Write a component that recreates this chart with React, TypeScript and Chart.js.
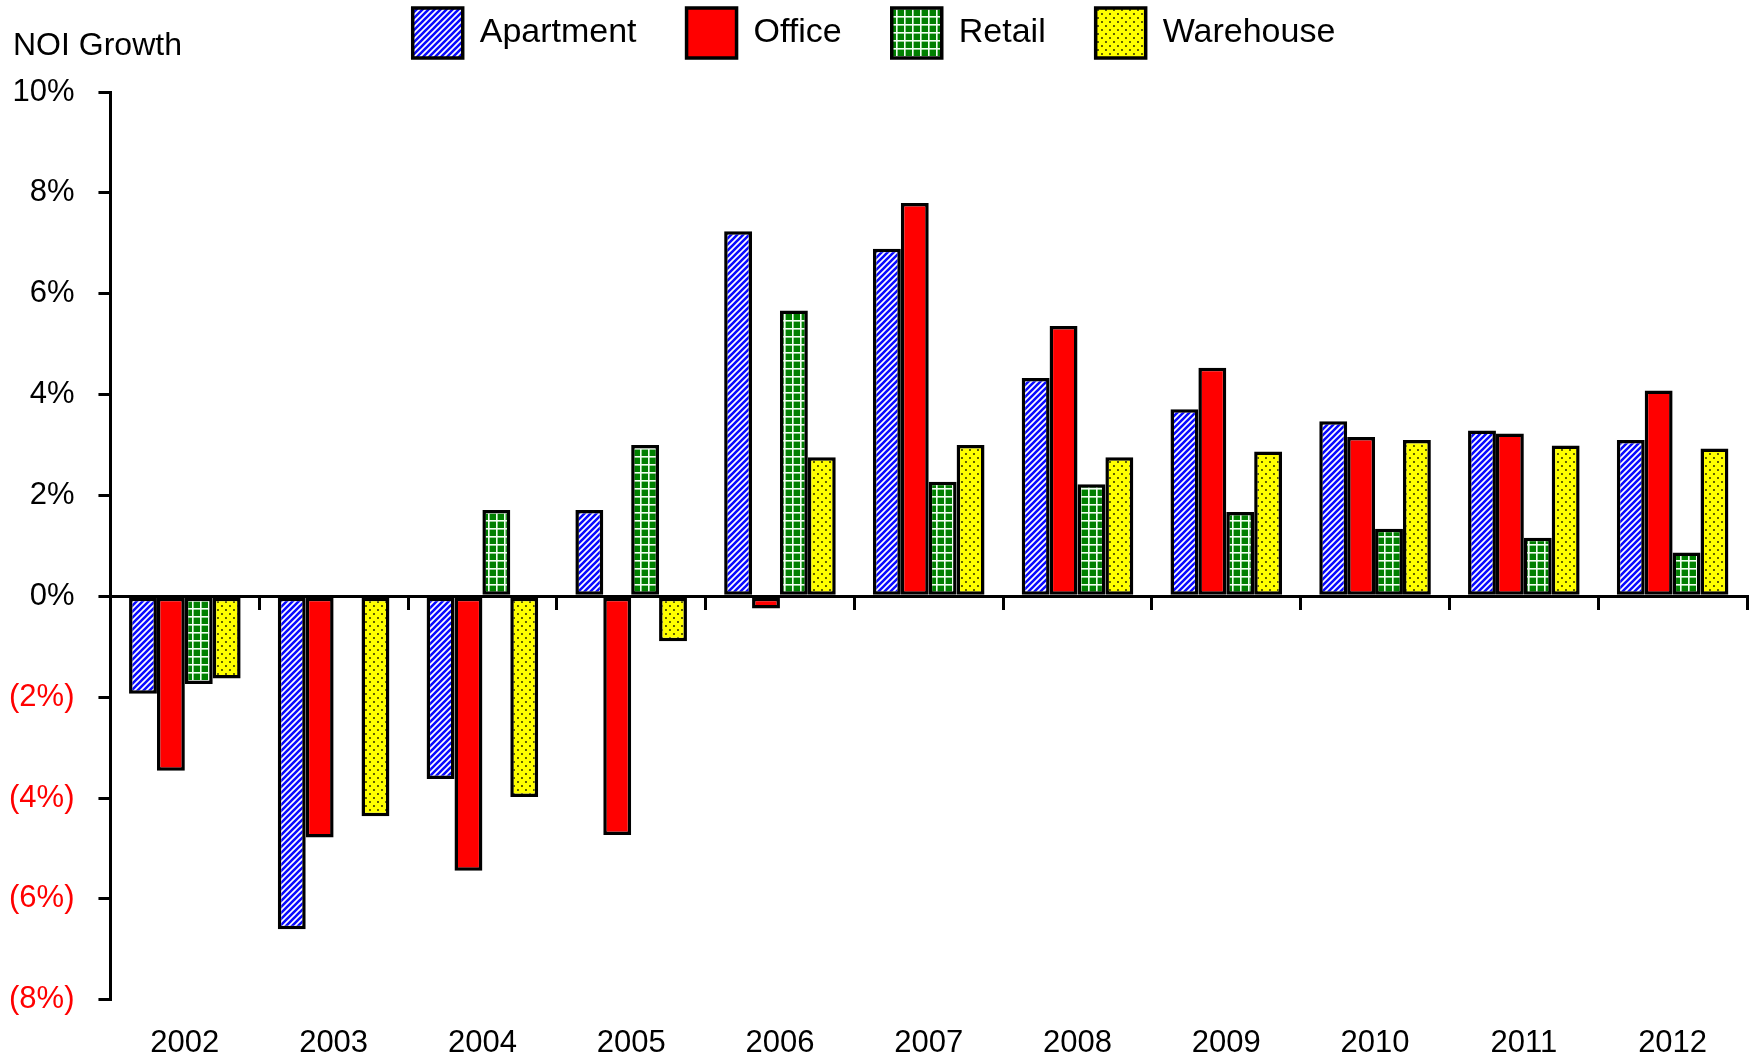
import React, { useEffect, useRef } from "react";
import { Chart, registerables } from "chart.js";

Chart.register(...registerables);

const years = ["2002", "2003", "2004", "2005", "2006", "2007", "2008", "2009", "2010", "2011", "2012"];
const apartment = [-1.93, -6.6, -3.62, 1.71, 7.24, 6.89, 4.33, 3.71, 3.47, 3.29, 3.1];
const office = [-3.46, -4.78, -5.44, -4.73, -0.24, 7.8, 5.36, 4.53, 3.16, 3.23, 4.08];
const retail = [-1.74, null, 1.71, 3.0, 5.67, 2.27, 2.22, 1.67, 1.34, 1.16, 0.87];
const warehouse = [-1.63, -4.36, -3.98, -0.89, 2.76, 3.0, 2.76, 2.87, 3.1, 2.99, 2.93];
const seriesNames = ["Apartment", "Office", "Retail", "Warehouse"];
const yTitle = "NOI Growth";
const FONT = "'Liberation Sans', Arial, Helvetica, sans-serif";

function makeTile(s: number, draw: (p: CanvasRenderingContext2D, s: number) => void) {
  const c = document.createElement("canvas");
  c.width = s;
  c.height = s;
  const p = c.getContext("2d") as CanvasRenderingContext2D;
  draw(p, s);
  return c;
}

function stripes(ctx: CanvasRenderingContext2D) {
  const tile = makeTile(6, (p, s) => {
    p.fillStyle = "#ffffff";
    p.fillRect(0, 0, s, s);
    p.strokeStyle = "#0a0aff";
    p.lineWidth = 2.6;
    p.beginPath();
    p.moveTo(-1, s + 1);
    p.lineTo(s + 1, -1);
    p.moveTo(-1, 1);
    p.lineTo(1, -1);
    p.moveTo(s - 1, s + 1);
    p.lineTo(s + 1, s - 1);
    p.stroke();
  });
  return ctx.createPattern(tile, "repeat") as CanvasPattern;
}

function grid(ctx: CanvasRenderingContext2D) {
  const tile = makeTile(8, (p, s) => {
    p.fillStyle = "#008000";
    p.fillRect(0, 0, s, s);
    p.fillStyle = "#f2fff2";
    p.fillRect(0, 0, s, 1.6);
    p.fillRect(0, 0, 1.6, s);
  });
  return ctx.createPattern(tile, "repeat") as CanvasPattern;
}

function dots(ctx: CanvasRenderingContext2D) {
  const tile = makeTile(8, (p, s) => {
    p.fillStyle = "#ffff00";
    p.fillRect(0, 0, s, s);
    p.fillStyle = "#222200";
    p.beginPath();
    p.arc(2, 2, 0.95, 0, Math.PI * 2);
    p.arc(6, 6, 0.95, 0, Math.PI * 2);
    p.fill();
  });
  return ctx.createPattern(tile, "repeat") as CanvasPattern;
}

export default function App() {
  const ref = useRef<HTMLCanvasElement | null>(null);

  useEffect(() => {
    document.body.style.margin = "0";
    const canvas = ref.current;
    if (!canvas) return;
    const ctx = canvas.getContext("2d") as CanvasRenderingContext2D;
    Chart.defaults.font.family = FONT;

    const legendSpacer = {
      id: "legendSpacer",
      beforeInit(chart: any) {
        const orig = chart.legend.fit;
        chart.legend.fit = function () {
          orig.bind(chart.legend)();
          this.height += 24;
        };
      },
      afterLayout(chart: any) {
        chart.legend.left += 8;
        chart.legend.right += 8;
      },
    };

    const yTitlePlugin = {
      id: "yTitlePlugin",
      afterDraw(chart: any) {
        const c = chart.ctx;
        c.save();
        c.font = `32px ${FONT}`;
        c.fillStyle = "#000";
        c.textAlign = "left";
        c.textBaseline = "middle";
        c.fillText(yTitle, 13, chart.chartArea.top - 46);
        c.restore();
      },
    };

    const fills = [stripes(ctx), "#ff0000", grid(ctx), dots(ctx)];
    const values = [apartment, office, retail, warehouse];

    const chart = new Chart(ctx, {
      type: "bar",
      data: {
        labels: years,
        datasets: seriesNames.map((name, i) => ({
          label: name,
          data: values[i] as any,
          backgroundColor: fills[i] as any,
          borderColor: "#000000",
          borderWidth: 3.5,
          borderSkipped: false,
          barPercentage: 1.0,
          categoryPercentage: 0.75,
          xAxisID: "x",
        })),
      },
      options: {
        responsive: false,
        devicePixelRatio: 1,
        animation: false,
        layout: { padding: { top: -42, left: -15, right: 12, bottom: -28 } },
        plugins: {
          legend: {
            position: "top",
            labels: {
              boxWidth: 50,
              boxHeight: 50,
              padding: 50,
              color: "#000",
              font: { size: 34, family: FONT },
            },
          },
          title: { display: false },
          tooltip: { enabled: false },
        },
        scales: {
          x: {
            type: "category",
            position: { y: 0 } as any,
            offset: true,
            ticks: { display: false },
            grid: {
              display: true,
              drawOnChartArea: false,
              drawTicks: true,
              tickLength: 12,
              color: "#000",
              lineWidth: 3,
              offset: true,
            },
            border: { display: true, color: "#000", width: 3 },
          },
          x2: {
            type: "category",
            labels: years,
            position: "bottom",
            offset: true,
            grid: { display: false, drawTicks: false },
            border: { display: false },
            ticks: {
              padding: 25,
              color: "#000",
              font: { size: 31, family: FONT },
              maxRotation: 0,
              autoSkip: false,
            },
          },
          y: {
            min: -8,
            max: 10,
            position: "left",
            ticks: {
              stepSize: 2,
              padding: 24,
              font: { size: 31, family: FONT },
              color: (c: any) => (c.tick && c.tick.value < 0 ? "#ff0000" : "#000000"),
              callback: (v: any) => (Number(v) < 0 ? `(${-Number(v)}%)` : `${v}%`),
            },
            grid: {
              display: true,
              drawOnChartArea: false,
              drawTicks: true,
              tickLength: 12,
              color: "#000",
              lineWidth: 3,
            },
            border: { display: true, color: "#000", width: 3 },
          },
        },
      },
      plugins: [legendSpacer, yTitlePlugin],
    });

    return () => chart.destroy();
  }, []);

  return (
    <div style={{ width: 1759, height: 1059 }}>
      <canvas ref={ref} width={1759} height={1059} style={{ display: "block" }} />
    </div>
  );
}
